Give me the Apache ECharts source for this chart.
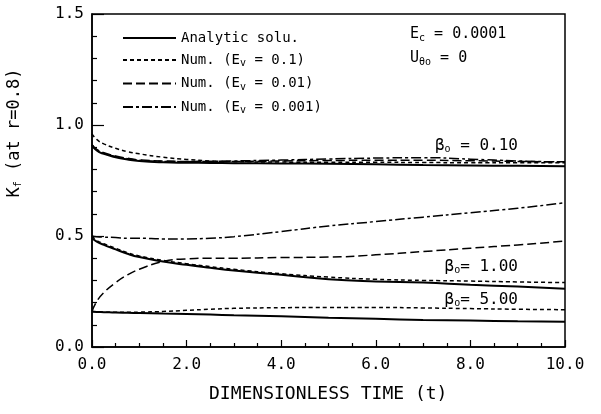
<!DOCTYPE html>
<html>
<head>
<meta charset="utf-8">
<script src="https://cdn.jsdelivr.net/npm/echarts@6/dist/echarts.min.js"></script>
<style>
  html, body { margin: 0; padding: 0; background: #fff; }
  #chart { width: 601px; height: 414px; }
</style>
</head>
<body>
<div id="chart"></div>
<script>
// time points (dimensionless t)
const tGrid = [0, 0.1, 0.25, 0.5, 0.75, 1, 1.5, 2, 2.5, 3, 4, 5, 6, 7, 8, 9, 10]

// beta_o = 0.10
const analyticB01 = [0.91, 0.885, 0.87, 0.855, 0.845, 0.838, 0.832, 0.83, 0.829, 0.828, 0.827, 0.825, 0.823, 0.82, 0.818, 0.816, 0.814]
const numEv1B01 = [0.96, 0.935, 0.915, 0.895, 0.88, 0.87, 0.855, 0.845, 0.838, 0.835, 0.833, 0.832, 0.832, 0.831, 0.83, 0.83, 0.83]
const numEv01B01 = [0.91, 0.89, 0.875, 0.86, 0.85, 0.843, 0.838, 0.836, 0.836, 0.836, 0.838, 0.84, 0.841, 0.841, 0.839, 0.836, 0.834]
const numEv001B01 = [0.91, 0.888, 0.873, 0.858, 0.848, 0.841, 0.836, 0.835, 0.836, 0.838, 0.842, 0.847, 0.851, 0.853, 0.846, 0.838, 0.833]

// beta_o = 1.00
const analyticB1 = [0.49, 0.475, 0.46, 0.44, 0.42, 0.405, 0.385, 0.37, 0.357, 0.345, 0.325, 0.305, 0.295, 0.29, 0.28, 0.272, 0.262]
const numEv1B1 = [0.5, 0.48, 0.465, 0.445, 0.425, 0.41, 0.39, 0.375, 0.362, 0.35, 0.33, 0.315, 0.305, 0.3, 0.297, 0.293, 0.29]
const numEv01B1 = [0.16, 0.205, 0.245, 0.29, 0.325, 0.35, 0.385, 0.397, 0.4, 0.4, 0.403, 0.405, 0.415, 0.43, 0.445, 0.46, 0.477]
const numEv001B1 = [0.5, 0.497, 0.495, 0.493, 0.49, 0.49, 0.487, 0.487, 0.49, 0.497, 0.52, 0.545, 0.565, 0.585, 0.605, 0.625, 0.65]

// beta_o = 5.00
const analyticB5 = [0.16, 0.158, 0.157, 0.155, 0.154, 0.153, 0.151, 0.149, 0.146, 0.143, 0.138, 0.132, 0.127, 0.122, 0.119, 0.116, 0.114]
const numEv1B5 = [0.16, 0.158, 0.157, 0.156, 0.156, 0.157, 0.16, 0.165, 0.17, 0.174, 0.177, 0.178, 0.178, 0.176, 0.173, 0.17, 0.168]

const yTicks = [0, 0.5, 1.0, 1.5]
const xTicks = [0, 2, 4, 6, 8, 10]

const NAME_A = 'Analytic solu.'
const NAME_1 = 'Num. (Ev = 0.1)'
const NAME_01 = 'Num. (Ev = 0.01)'
const NAME_001 = 'Num. (Ev = 0.001)'

const styles = {}
styles[NAME_A] = { type: 'solid', width: 2 }
styles[NAME_1] = { type: [4, 3], width: 1.5 }
styles[NAME_01] = { type: [9, 4], width: 1.5 }
styles[NAME_001] = { type: [10, 3, 3, 3], width: 1.5 }

const pairs = (vals) => tGrid.map((t, i) => [t, vals[i]])

const makeSeries = (name, vals) => ({
  name: name,
  type: 'line',
  data: pairs(vals),
  smooth: true,
  symbol: 'none',
  showSymbol: false,
  lineStyle: { color: '#000', type: styles[name].type, width: styles[name].width },
  itemStyle: { color: '#000' },
  z: name === NAME_A ? 3 : 2
})

const font = 'DejaVu Sans Mono'
const sub = { s: { fontSize: 10, fontFamily: font, padding: [7, 0, 0, 0], fill: '#000' } }

const chart = echarts.init(document.getElementById('chart'))
chart.setOption({
  backgroundColor: '#fff',
  animation: false,
  grid: { left: 92, right: 36, top: 14, bottom: 67, show: true, borderColor: '#000', borderWidth: 1.5 },
  legend: {
    orient: 'vertical',
    left: 117,
    top: 26,
    itemWidth: 53,
    itemHeight: 14,
    itemGap: 8,
    itemStyle: { opacity: 0 },
    data: [NAME_A, NAME_1, NAME_01, NAME_001],
    formatter: (n) => n.replace('Ev', 'E{s|v}'),
    textStyle: {
      fontFamily: font, fontSize: 14, color: '#000',
      rich: { s: { fontSize: 10, fontFamily: font, color: '#000', padding: [7, 0, 0, 0] } }
    }
  },
  xAxis: {
    type: 'value',
    min: 0,
    max: 10,
    interval: 2,
    axisLine: { lineStyle: { color: '#000', width: 1.5 } },
    axisTick: { inside: true, length: 7, lineStyle: { color: '#000', width: 1.2 } },
    minorTick: { show: true, splitNumber: 4, length: 4, lineStyle: { color: '#000', width: 1.2 } },
    splitLine: { show: false },
    axisLabel: {
      margin: 10, color: '#000', fontFamily: font, fontSize: 16,
      formatter: (v) => xTicks.includes(v) ? v.toFixed(1) : ''
    }
  },
  yAxis: {
    type: 'value',
    min: 0,
    max: 1.5,
    interval: 0.5,
    axisLine: { show: true, lineStyle: { color: '#000', width: 1.5 } },
    axisTick: { show: true, inside: true, length: 12, lineStyle: { color: '#000', width: 1.2 } },
    minorTick: { show: true, splitNumber: 5, length: 5, lineStyle: { color: '#000', width: 1.2 } },
    splitLine: { show: false },
    axisLabel: {
      margin: 8, color: '#000', fontFamily: font, fontSize: 16,
      formatter: (v) => yTicks.includes(v) ? v.toFixed(1) : ''
    }
  },
  series: [
    makeSeries(NAME_A, analyticB01),
    makeSeries(NAME_1, numEv1B01),
    makeSeries(NAME_01, numEv01B01),
    makeSeries(NAME_001, numEv001B01),
    makeSeries(NAME_A, analyticB1),
    makeSeries(NAME_1, numEv1B1),
    makeSeries(NAME_01, numEv01B1),
    makeSeries(NAME_001, numEv001B1),
    makeSeries(NAME_A, analyticB5),
    makeSeries(NAME_1, numEv1B5)
  ],
  graphic: [
    {
      type: 'text', left: 410, top: 27,
      style: { text: 'E{s|c} = 0.0001', font: '15px ' + font, fill: '#000', rich: sub }
    },
    {
      type: 'text', left: 410, top: 51,
      style: { text: 'U{s|θo} = 0', font: '15px ' + font, fill: '#000', rich: sub }
    },
    {
      type: 'text', right: 83, top: 138,
      style: { text: 'β{s|o} = 0.10', font: '16px ' + font, fill: '#000', rich: sub }
    },
    {
      type: 'text', right: 83, top: 259,
      style: { text: 'β{s|o}= 1.00', font: '16px ' + font, fill: '#000', rich: sub }
    },
    {
      type: 'text', right: 83, top: 292,
      style: { text: 'β{s|o}= 5.00', font: '16px ' + font, fill: '#000', rich: sub }
    },
    {
      type: 'text', x: 6, y: 133, rotation: Math.PI / 2,
      style: { text: 'K{s|f} (at r=0.8)', font: '17px ' + font, fill: '#000', align: 'center', verticalAlign: 'top', rich: sub }
    },
    {
      type: 'text', left: 209, top: 385,
      style: { text: 'DIMENSIONLESS TIME (t)', font: '18px ' + font, fill: '#000' }
    }
  ]
})
</script>
</body>
</html>
